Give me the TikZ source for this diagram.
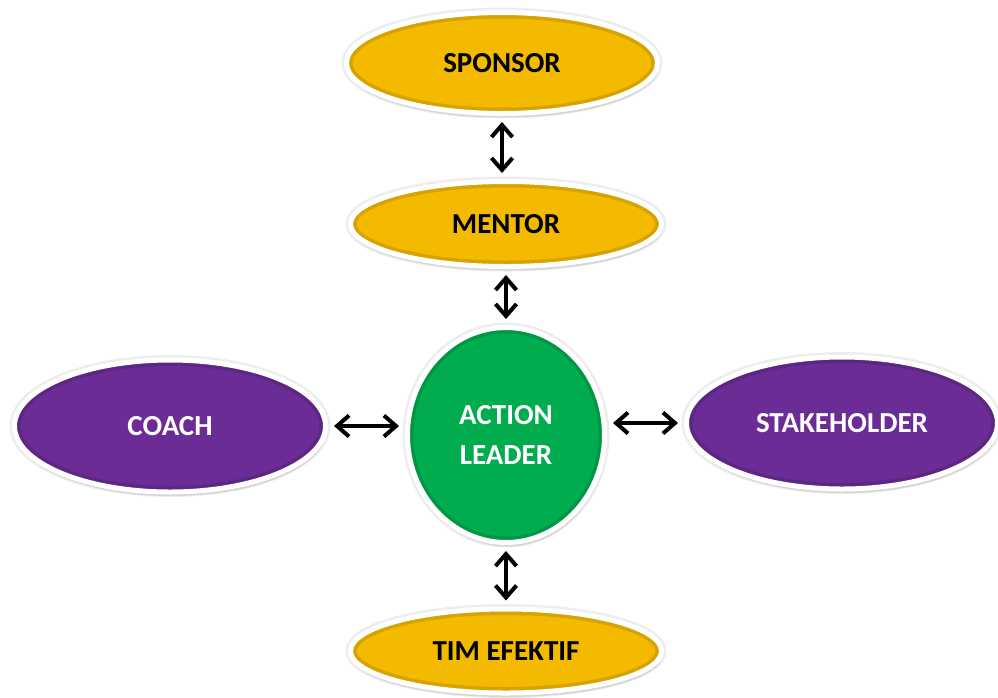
\documentclass[tikz,border=0pt]{standalone}
\usepackage{fontspec}
\setmainfont{Carlito}
\usetikzlibrary{shapes,arrows.meta,positioning,shadows,calc}

\definecolor{goldfill}{HTML}{F4BA00}
\definecolor{violetfill}{HTML}{6B2C95}
\definecolor{greenfill}{HTML}{00AC4E}

\tikzset{
  bubble/.style={ellipse, draw=white, line width=5pt, inner sep=0pt,
    font=\fontsize{29}{40}\selectfont\bfseries, align=center,
    preaction={draw=black!7, line width=10pt},
    drop shadow={opacity=0.18, shadow xshift=1pt, shadow yshift=-4pt, fill=black!60},
    path picture={
      \draw[line width=12pt, draw=black, opacity=0.12]
        let \p1=($(path picture bounding box.east)-(path picture bounding box.center)$),
            \p2=($(path picture bounding box.north)-(path picture bounding box.center)$) in
        (path picture bounding box.center) ellipse [x radius=\x1, y radius=\y2];
    }},
  goldbubble/.style={bubble, fill=goldfill, text=black,
    minimum width=311pt},
  violetbubble/.style={bubble, fill=violetfill, text=white,
    minimum width=311pt, minimum height=132pt},
  link/.style={{Straight Barb[length=12pt,width=21pt]}-{Straight Barb[length=12pt,width=21pt]},
    line width=4pt, shorten <=6pt, shorten >=6pt}
}

\begin{document}
\begin{tikzpicture}[x=1pt, y=-1pt]
    \useasboundingbox (0,0) rectangle (998,697);

    \node[bubble, fill=greenfill, text=white, minimum width=197pt, minimum height=215pt] (leader) at (506,435) {ACTION\\LEADER};
    \node[goldbubble, minimum height=85pt, node distance=211pt, above of=leader] (mentor) {MENTOR};
    \node[goldbubble, minimum height=101pt, node distance=161pt, above of=mentor, xshift=-4pt] (sponsor) {SPONSOR};
    \node[goldbubble, minimum height=84pt, node distance=216pt, below of=leader] (tim) {TIM EFEKTIF};
    \node[violetbubble, node distance=336pt, left of=leader, yshift=9pt] (coach) {COACH};
    \node[violetbubble, node distance=336pt, right of=leader, yshift=12pt] (stakeholder) {STAKEHOLDER};

    \draw[link] (sponsor) -- (sponsor |- mentor.north);
    \draw[link] (mentor) -- (leader);
    \draw[link] (leader.south -| tim) -- (tim);
    \draw[link] (coach.east) -- (leader.west |- coach);
    \draw[link] (leader.east |- stakeholder) -- (stakeholder.west);
\end{tikzpicture}
\end{document}
